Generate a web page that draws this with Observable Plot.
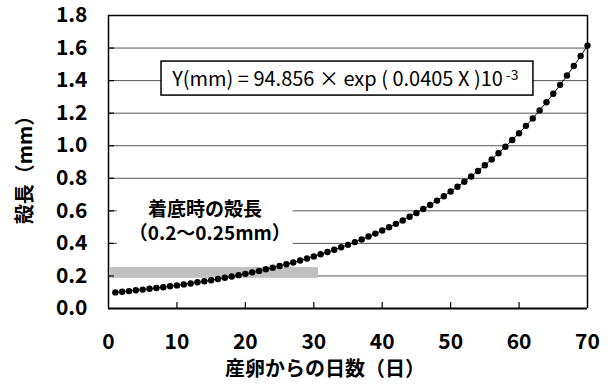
<!DOCTYPE html>
<html>
<head>
<meta charset="utf-8">
<script src="https://cdn.jsdelivr.net/npm/d3@7"></script>
<script src="https://cdn.jsdelivr.net/npm/@observablehq/plot@0.6"></script>
<style>
  html, body { margin: 0; padding: 0; background: #fff; }
  svg { display: block; }
</style>
</head>
<body>
<div id="chart"></div>
<script>
// Days after spawning (産卵からの日数)
const days = [1,2,3,4,5,6,7,8,9,10,11,12,13,14,15,16,17,18,19,20,21,22,23,24,25,26,27,28,29,30,31,32,33,34,35,36,37,38,39,40,41,42,43,44,45,46,47,48,49,50,51,52,53,54,55,56,57,58,59,60,61,62,63,64,65,66,67,68,69,70];
// Shell length in mm (殻長)
const shell = [0.099,0.103,0.107,0.112,0.116,0.121,0.126,0.131,0.137,0.142,0.148,0.154,0.161,0.167,0.174,0.181,0.189,0.197,0.205,0.213,0.222,0.231,0.241,0.251,0.261,0.272,0.283,0.295,0.307,0.320,0.333,0.347,0.361,0.376,0.391,0.408,0.424,0.442,0.460,0.479,0.499,0.520,0.541,0.564,0.587,0.611,0.636,0.663,0.690,0.719,0.748,0.779,0.811,0.845,0.880,0.916,0.954,0.994,1.035,1.077,1.122,1.168,1.217,1.267,1.319,1.374,1.431,1.490,1.551,1.615];
const xTicks = [0,10,20,30,40,50,60,70];
const xInnerTicks = [10,20,30,40,50,60];
const yTicks = [0.0,0.2,0.4,0.6,0.8,1.0,1.2,1.4,1.6,1.8];
const yGrid = [0.2,0.4,0.6,0.8,1.0,1.2,1.4,1.6];
// Settlement range (着底時の殻長 0.2〜0.25mm) band
const settleBand = [{x1: 0.3, x2: 30.7, y1: 0.185, y2: 0.252}];
const equation = "Y(mm) = 94.856 × exp ( 0.0405 X )10";
const eqSup = "-3";
const noteLines = ["着底時の殻長", "（0.2～0.25mm）"];
const xLabel = "産卵からの日数（日）";
const yLabel = "殻長（mm）";

const data = days.map((d, i) => ({day: d, len: shell[i]}));
const font = "'Noto Sans CJK JP', 'Noto Sans', sans-serif";
const tickFont = 21;

const plot = Plot.plot({
  width: 613,
  height: 392,
  marginLeft: 108,
  marginRight: 26,
  marginTop: 15,
  marginBottom: 84,
  style: {fontFamily: font, background: "#fff", overflow: "visible"},
  x: {domain: [0, 70], axis: null},
  y: {domain: [0, 1.8], axis: null},
  marks: [
    Plot.ruleY(yGrid, {stroke: "#555", strokeWidth: 1}),
    // white backing behind the note text
    Plot.rect([{x1: 1.3, x2: 27.0, y1: 0.37, y2: 0.68}], {x1: "x1", x2: "x2", y1: "y1", y2: "y2", fill: "#fff"}),
    Plot.rect(settleBand, {x1: "x1", x2: "x2", y1: "y1", y2: "y2", fill: "#c0c0c0"}),
    // frame
    Plot.ruleY([1.8], {stroke: "#000", strokeWidth: 1.5}),
    Plot.ruleX([70], {stroke: "#000", strokeWidth: 1.5}),
    Plot.ruleX([0], {stroke: "#000", strokeWidth: 1.5}),
    Plot.ruleY([0], {stroke: "#000", strokeWidth: 2.2}),
    // inner x ticks
    Plot.axisX(xInnerTicks, {tickSize: -6, tickFormat: () => "", label: null, stroke: "#000", strokeWidth: 1.2}),
    // inner y ticks
    Plot.axisY(yGrid, {anchor: "left", tickSize: -6, tickFormat: () => "", label: null, stroke: "#000", strokeWidth: 1.2}),
    // tick labels
    Plot.text(xTicks, {x: d => d, frameAnchor: "bottom", dy: 34, text: d => String(d), fontSize: tickFont, fontWeight: "bold", fill: "#000", lineAnchor: "middle"}),
    Plot.text(yTicks, {y: d => d, frameAnchor: "left", dx: -21, text: d => d.toFixed(1), fontSize: tickFont, fontWeight: "bold", fill: "#000", textAnchor: "end"}),
    // curve
    Plot.line(data, {x: "day", y: "len", stroke: "#000", strokeWidth: 1}),
    Plot.dot(data, {x: "day", y: "len", r: 3.2, fill: "#000", stroke: "none"}),
    // equation box
    Plot.rect([{x1: 7.75, x2: 62.1, y1: 1.308, y2: 1.517}], {x1: "x1", x2: "x2", y1: "y1", y2: "y2", fill: "#fff", stroke: "#000", strokeWidth: 1.5}),
    Plot.text([equation], {x: 9.3, y: 1.405, text: d => d, textAnchor: "start", fontSize: 20, fill: "#000", className: "eq"}),
    // note
    Plot.text([noteLines[0]], {x: 14.1, y: 0.605, text: d => d, fontSize: 19, fontWeight: "bold", fill: "#000"}),
    Plot.text([noteLines[1]], {x: 14.8, y: 0.46, text: d => d, fontSize: 19, fontWeight: "bold", fill: "#000"}),
    // axis titles
    Plot.text([xLabel], {frameAnchor: "bottom", dx: -23, dy: 61, text: d => d, fontSize: 20, fontWeight: "bold", fill: "#000", lineAnchor: "middle"}),
    Plot.text([yLabel], {frameAnchor: "left", dx: -83, dy: 3, rotate: -90, text: d => d, fontSize: 20, fontWeight: "bold", fill: "#000", textAnchor: "middle", lineAnchor: "middle"})
  ]
});

// superscript exponent
d3.select(plot).selectAll("g.eq text").each(function() {
  d3.select(this).append("tspan").attr("dy", "-0.45em").attr("font-size", 14).attr("dx", "3").text(eqSup);
});

document.getElementById("chart").appendChild(plot);
</script>
</body>
</html>
